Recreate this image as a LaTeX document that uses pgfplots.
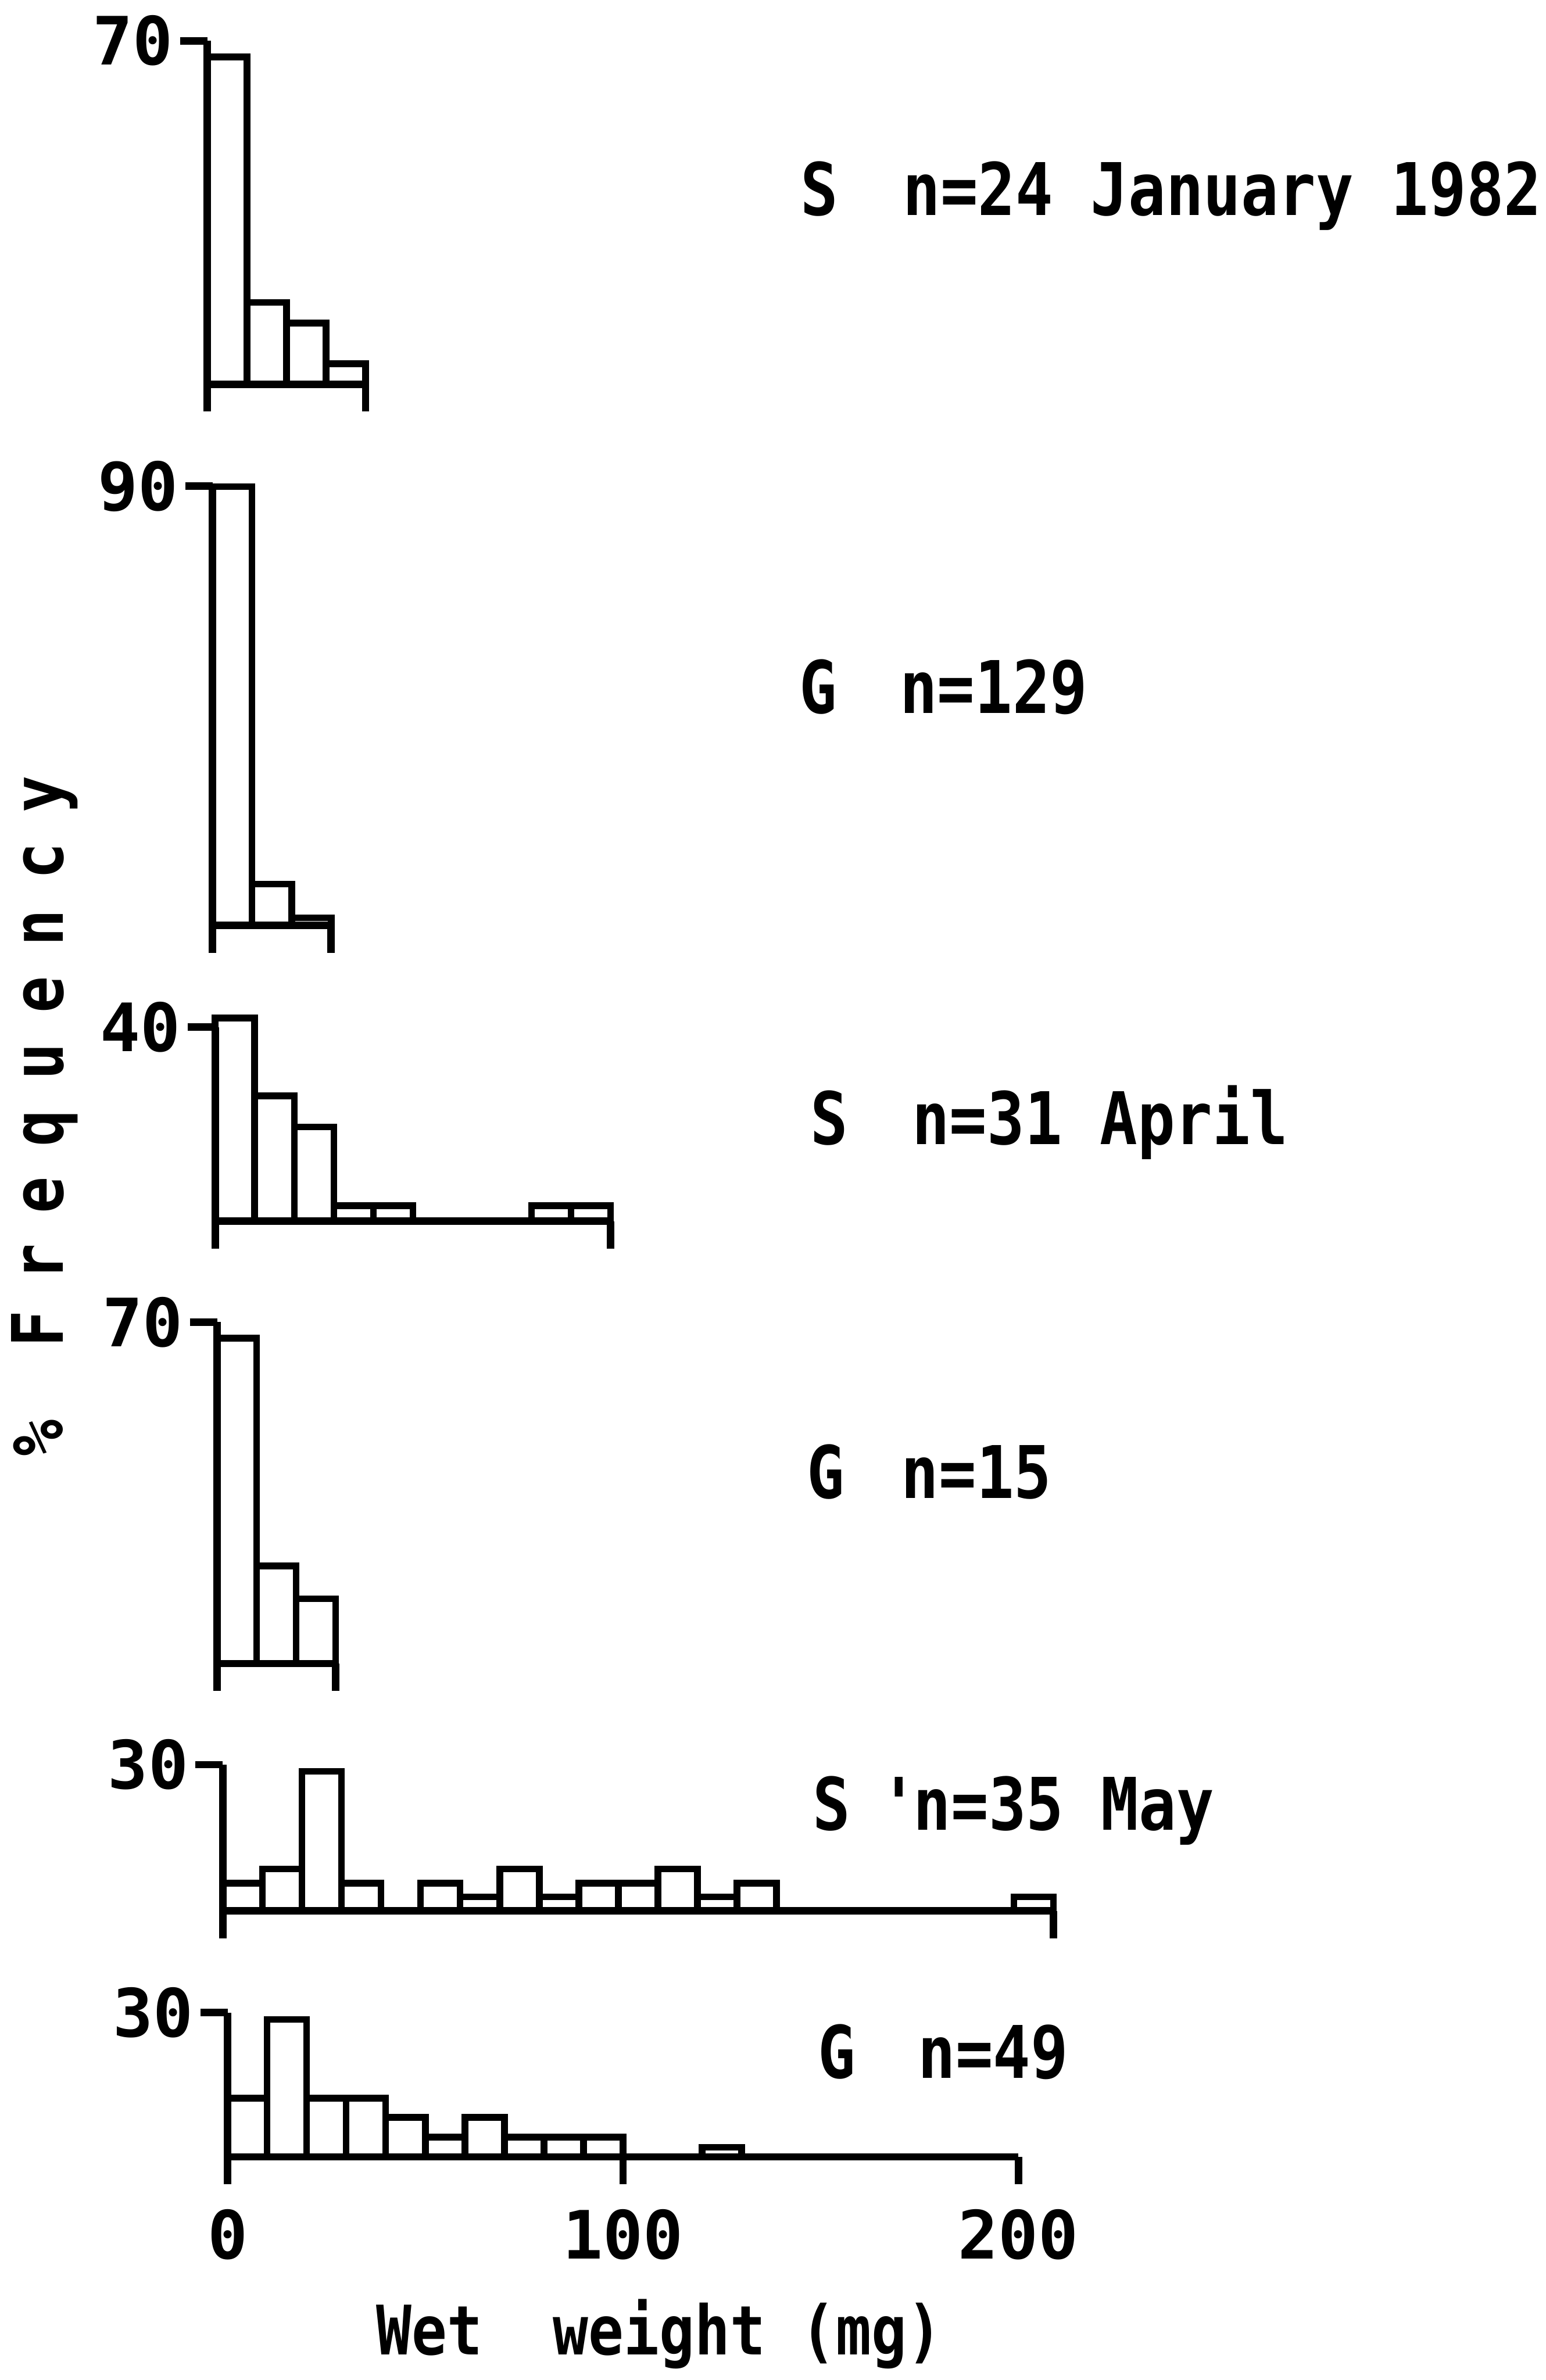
\documentclass[border=0pt]{standalone}
\usepackage{fontspec}
\usepackage{pgfplots}
\pgfplotsset{compat=1.18}
\newfontfamily\plotfont[FakeStretch=0.86]{DejaVu Sans Mono Bold}
\newfontfamily\tickfont{DejaVu Sans Mono Bold}
\newcommand{\lb}[1]{\makebox[0.44cm]{#1}}
\newcommand{\lblfont}{\plotfont\fontsize{13.6}{14}\selectfont}

\pgfplotsset{
  panel/.style={
    axis x line=bottom, axis y line=left,
    axis line style={-, line width=1.4pt},
    every outer x axis line/.append style={-},
    every outer y axis line/.append style={-},
    xmin=0, ymin=0, enlargelimits=false, clip=false, axis on top,
    tick align=outside, major tick length=0.18cm,
    tick style={line width=1.4pt, black},
    minor tick num=0,
    anchor=south west,
    yticklabel style={font=\tickfont\fontsize{12.5}{13}\selectfont, anchor=east, inner sep=0pt, xshift=-0.04cm},
    xticklabel style={font=\tickfont\fontsize{12.5}{13}\selectfont, anchor=north, inner sep=0pt, yshift=-0.16cm},
    /pgf/number format/assume math mode=true,
    x=0.02605cm,
  },
  bars/.style={ybar, bar width=10, bar shift=0pt, draw=black, fill=white, line width=1.25pt},
}

\begin{document}
\begin{tikzpicture}
\path[use as bounding box] (0,0) rectangle (10.18,15.68);

% January, S
\begin{axis}[panel, at={(1.366cm,13.148cm)}, xmax=40, ymax=70, y=0.03234cm, xtick={0,40}, ytick={70}, xticklabels={,,}]
\addplot[bars] coordinates {(5,66.7) (15,16.7) (25,12.5) (35,4.2)};
\end{axis}

% January, G
\begin{axis}[panel, at={(1.40cm,9.582cm)}, xmax=30, ymax=90, y=0.03216cm, xtick={0,30}, ytick={90}, xticklabels={,,}]
\addplot[bars] coordinates {(5,89.9) (15,8.5) (25,1.6)};
\end{axis}

% April, S
\begin{axis}[panel, at={(1.417cm,7.635cm)}, xmax=100, ymax=40, y=0.03195cm, xtick={0,100}, ytick={40}, xticklabels={,,}]
\addplot[bars] coordinates {(5,41.9) (15,25.8) (25,19.4) (35,3.2) (45,3.2) (85,3.2) (95,3.2)};
\end{axis}

% April, G
\begin{axis}[panel, at={(1.43cm,4.72cm)}, xmax=30, ymax=70, y=0.03214cm, xtick={0,30}, ytick={70}, xticklabels={,,}]
\addplot[bars] coordinates {(5,66.7) (15,20.0) (25,13.3)};
\end{axis}

% May, S
\begin{axis}[panel, at={(1.468cm,3.09cm)}, xmax=210, ymax=30, y=0.03213cm, xtick={0,210}, ytick={30}, xticklabels={,,}]
\addplot[bars] coordinates {(5,5.7) (15,8.6) (25,28.6) (35,5.7) (55,5.7) (65,2.9) (75,8.6) (85,2.9) (95,5.7) (105,5.7) (115,8.6) (125,2.9) (135,5.7) (205,2.9)};
\end{axis}

% May, G
\begin{axis}[panel, at={(1.499cm,1.47cm)}, xmax=200, ymax=30, y=0.03167cm, xtick={0,100,200}, ytick={30}]
\addplot[bars] coordinates {(5,12.2) (15,28.6) (25,12.2) (35,12.2) (45,8.2) (55,4.1) (65,8.2) (75,4.1) (85,4.1) (95,4.1) (125,2.0)};
\end{axis}

% panel labels
\node[font=\lblfont, anchor=base west, inner sep=0pt] at (5.265,14.263) {S};
\node[font=\lblfont, anchor=base west, inner sep=0pt] at (5.94,14.263) {n=24 January 1982};
\node[font=\lblfont, anchor=base west, inner sep=0pt] at (5.26,10.98) {G};
\node[font=\lblfont, anchor=base west, inner sep=0pt] at (5.92,10.98) {n=129};
\node[font=\lblfont, anchor=base west, inner sep=0pt] at (5.33,8.14) {S};
\node[font=\lblfont, anchor=base west, inner sep=0pt] at (6.00,8.14) {n=31 April};
\node[font=\lblfont, anchor=base west, inner sep=0pt] at (5.31,5.81) {G};
\node[font=\lblfont, anchor=base west, inner sep=0pt] at (5.93,5.81) {n=15};
\node[font=\lblfont, anchor=base west, inner sep=0pt] at (5.345,3.624) {S};
\node[font=\lblfont, anchor=base west, inner sep=0pt] at (6.01,3.624) {\llap{\textquotesingle\hspace{-0.07cm}}n=35 May};
\node[font=\lblfont, anchor=base west, inner sep=0pt] at (5.38,1.987) {G};
\node[font=\lblfont, anchor=base west, inner sep=0pt] at (6.04,1.987) {n=49};

% axis titles
\node[rotate=90, anchor=base west, inner sep=0pt, font=\plotfont\fontsize{13.3}{14}\selectfont] at (0.414,5.98)
  {\lb{\%}\hspace{0.28cm}\lb{F}\lb{r}\lb{e}\lb{q}\lb{u}\lb{e}\lb{n}\lb{c}\lb{y}};
\node[anchor=base, inner sep=0pt, font=\plotfont\fontsize{12.8}{14}\selectfont] at (4.343,0.165) {Wet~~weight (mg)};
\end{tikzpicture}
\end{document}
